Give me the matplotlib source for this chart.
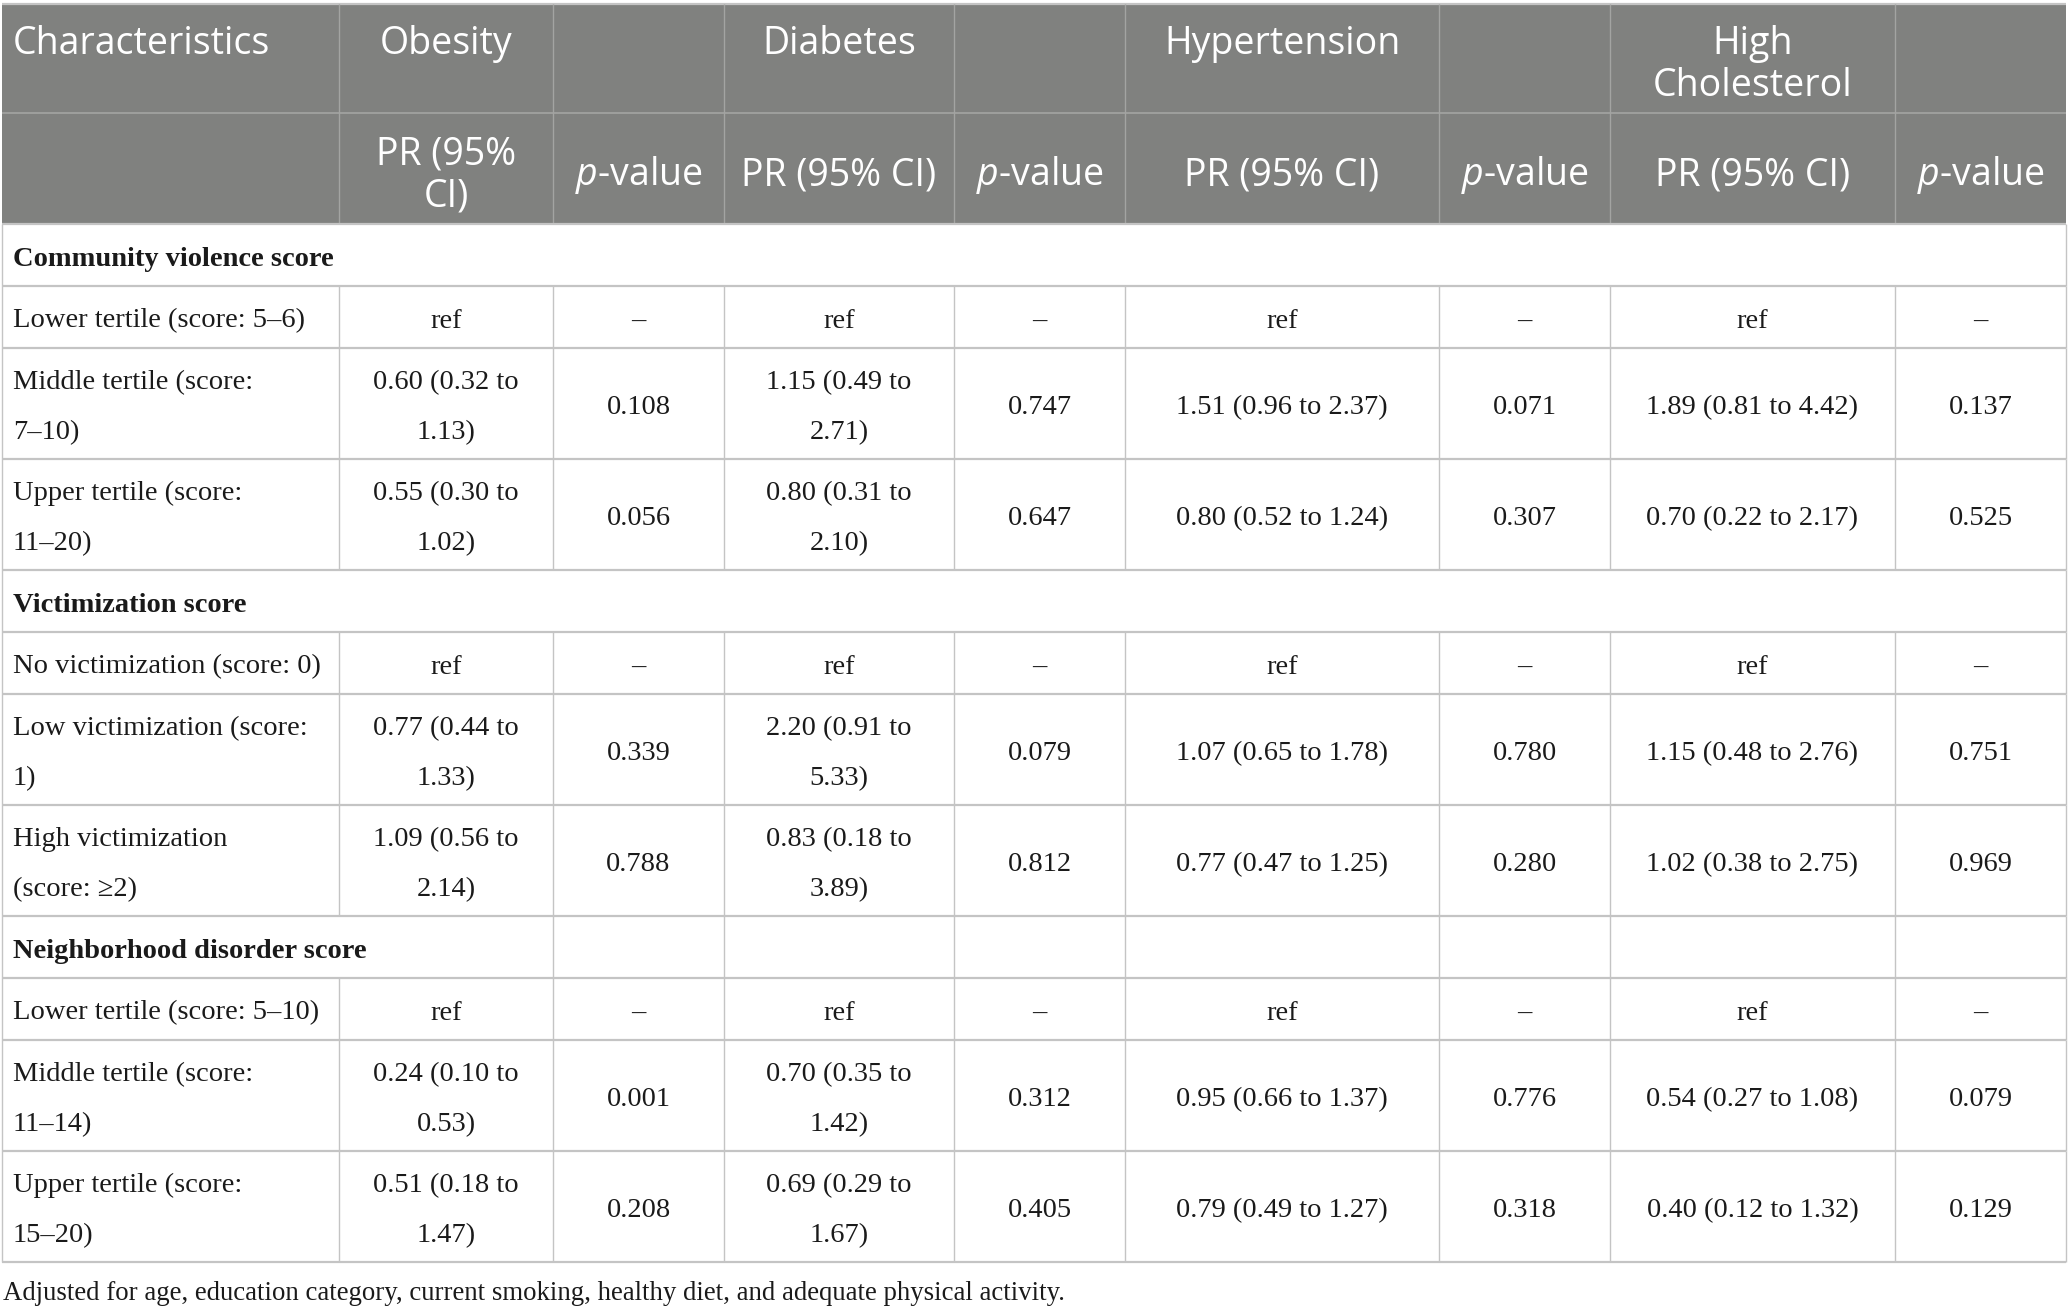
import matplotlib
matplotlib.use("Agg")
import matplotlib.pyplot as plt

plt.rcParams['mathtext.fontset'] = 'custom'
plt.rcParams['mathtext.rm'] = 'Open Sans'
plt.rcParams['mathtext.it'] = 'Open Sans:italic'

# table content
outcomes = ["Obesity", "Diabetes", "Hypertension", "High\nCholesterol"]
sub_header = ["PR (95%\nCI)", "$\\mathit{p}$-value", "PR (95% CI)", "$\\mathit{p}$-value",
              "PR (95% CI)", "$\\mathit{p}$-value", "PR (95% CI)", "$\\mathit{p}$-value"]

sections = ["Community violence score", "Victimization score", "Neighborhood disorder score"]

row_labels = [
    ["Lower tertile (score: 5–6)", "Middle tertile (score:\n7–10)", "Upper tertile (score:\n11–20)"],
    ["No victimization (score: 0)", "Low victimization (score:\n1)", "High victimization\n(score: \u22652)"],
    ["Lower tertile (score: 5–10)", "Middle tertile (score:\n11–14)", "Upper tertile (score:\n15–20)"],
]

obesity_pr = [["ref", "0.60 (0.32 to\n1.13)", "0.55 (0.30 to\n1.02)"],
              ["ref", "0.77 (0.44 to\n1.33)", "1.09 (0.56 to\n2.14)"],
              ["ref", "0.24 (0.10 to\n0.53)", "0.51 (0.18 to\n1.47)"]]
obesity_p = [["–", "0.108", "0.056"], ["–", "0.339", "0.788"], ["–", "0.001", "0.208"]]

diabetes_pr = [["ref", "1.15 (0.49 to\n2.71)", "0.80 (0.31 to\n2.10)"],
               ["ref", "2.20 (0.91 to\n5.33)", "0.83 (0.18 to\n3.89)"],
               ["ref", "0.70 (0.35 to\n1.42)", "0.69 (0.29 to\n1.67)"]]
diabetes_p = [["–", "0.747", "0.647"], ["–", "0.079", "0.812"], ["–", "0.312", "0.405"]]

hyper_pr = [["ref", "1.51 (0.96 to 2.37)", "0.80 (0.52 to 1.24)"],
            ["ref", "1.07 (0.65 to 1.78)", "0.77 (0.47 to 1.25)"],
            ["ref", "0.95 (0.66 to 1.37)", "0.79 (0.49 to 1.27)"]]
hyper_p = [["–", "0.071", "0.307"], ["–", "0.780", "0.280"], ["–", "0.776", "0.318"]]

chol_pr = [["ref", "1.89 (0.81 to 4.42)", "0.70 (0.22 to 2.17)"],
           ["ref", "1.15 (0.48 to 2.76)", "1.02 (0.38 to 2.75)"],
           ["ref", "0.54 (0.27 to 1.08)", "0.40 (0.12 to 1.32)"]]
chol_p = [["–", "0.137", "0.525"], ["–", "0.751", "0.969"], ["–", "0.079", "0.129"]]

footnote = "Adjusted for age, education category, current smoking, healthy diet, and adequate physical activity."

# layout (pixels)
W, H = 2068, 1313
col_x = [2, 339, 553, 724, 954, 1125, 1439, 1610, 1895, 2066]
head_y = [4, 113, 224]
sec_h, row1_h, row2_h = 62, 62, 111

header_bg = "#80817f"
header_line = "#a3a4a2"
grid = "#c4c4c4"
txt = "#1a1a1a"
sans = "Open Sans"
serif = "Liberation Serif"
fs_head = 27
fs_body = 20.5

fig = plt.figure(figsize=(W / 100, H / 100), dpi=100)
ax = fig.add_axes([0, 0, 1, 1])
ax.set_xlim(0, W)
ax.set_ylim(H, 0)
ax.axis("off")


def put(x, yc, s, step, ha="center", **kw):
    lines = s.split("\n")
    n = len(lines)
    for i, ln in enumerate(lines):
        y = yc + (i - (n - 1) / 2) * step
        ax.text(x, y, ln, ha=ha, va="center", **kw)


def hline(y, x0=col_x[0], x1=col_x[-1], c=grid, lw=1.6):
    ax.plot([x0, x1], [y, y], color=c, lw=lw, solid_capstyle="butt")


def vline(x, y0, y1, c=grid, lw=1.0):
    ax.plot([x, x], [y0, y1], color=c, lw=lw, solid_capstyle="butt")


# header
ax.add_patch(plt.Rectangle((col_x[0], head_y[0]), col_x[-1] - col_x[0], head_y[2] - head_y[0],
                           facecolor=header_bg, edgecolor="none"))
hline(head_y[0], c=grid, lw=1.6)
hline(head_y[1], c=header_line, lw=1.2)
for x in col_x[1:-1]:
    vline(x, head_y[0], head_y[2], c=header_line, lw=1.0)

put(13, 44, "Characteristics", 42, ha="left", color="white", fontsize=fs_head, family=sans)
for k, name in enumerate(outcomes):
    cx = (col_x[1 + 2 * k] + col_x[2 + 2 * k]) / 2
    lines = name.split("\n")
    for i, ln in enumerate(lines):
        ax.text(cx, 44 + i * 42, ln, ha="center", va="center", color="white",
                fontsize=fs_head, family=sans)
for j, s in enumerate(sub_header):
    cx = (col_x[1 + j] + col_x[2 + j]) / 2
    put(cx, (head_y[1] + head_y[2]) / 2 + 7, s, 42, color="white", fontsize=fs_head, family=sans)

# body
pr_cols = [obesity_pr, diabetes_pr, hyper_pr, chol_pr]
p_cols = [obesity_p, diabetes_p, hyper_p, chol_p]

dy = 4  # text baseline nudge
y = head_y[2]
hline(y)
for s_i, sec in enumerate(sections):
    y0 = y
    y = y0 + sec_h
    put(13, (y0 + y) / 2 + dy, sec, 50, ha="left", color=txt, fontsize=fs_body,
        family=serif, fontweight="bold")
    vline(col_x[0], y0, y)
    vline(col_x[-1], y0, y)
    if s_i == 2:
        for x in col_x[2:-1]:
            vline(x, y0, y)
    hline(y)
    for r, lab in enumerate(row_labels[s_i]):
        y0 = y
        h = row1_h if r == 0 else row2_h
        y = y0 + h
        yc = (y0 + y) / 2 + dy
        put(13, yc, lab, 50, ha="left", color=txt, fontsize=fs_body, family=serif)
        vals = []
        for k in range(4):
            vals.append(pr_cols[k][s_i][r])
            vals.append(p_cols[k][s_i][r])
        for j, v in enumerate(vals):
            cx = (col_x[1 + j] + col_x[2 + j]) / 2
            put(cx, yc, v, 50, color=txt, fontsize=fs_body, family=serif)
        for x in col_x:
            vline(x, y0, y)
        hline(y)

ax.text(3, 1294, footnote, ha="left", va="center", color=txt, fontsize=fs_body * 0.94, family=serif)

fig.savefig("out.png", dpi=100)
